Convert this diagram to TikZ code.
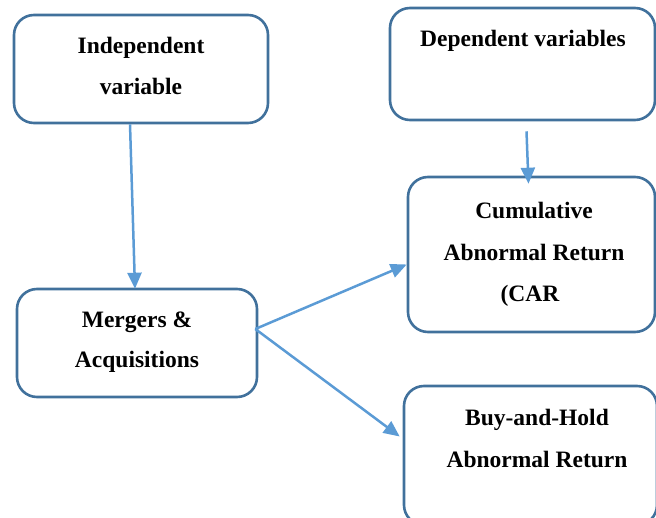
\documentclass[tikz,border=0pt]{standalone}
\usepackage{fontspec}
\setmainfont{Liberation Serif}
\usetikzlibrary{arrows.meta}
\definecolor{boxline}{HTML}{41719C}
\definecolor{arrowcol}{HTML}{5B9BD5}
\begin{document}
\begin{tikzpicture}[x=1pt,y=-1pt,
  box/.style={draw=boxline, line width=2.6pt, rounded corners=20pt, inner sep=0pt},
  lbl/.style={anchor=base, inner sep=0pt, font=\fontsize{23.5}{28}\selectfont\bfseries},
  conn/.style={draw=arrowcol, line width=2.5pt, -{Triangle[length=16pt,width=14pt]}}]
\useasboundingbox (0,0) rectangle (656,518);
% boxes
\node[box, minimum width=254pt, minimum height=108pt] (iv) at (141,69) {};
\node[box, minimum width=265pt, minimum height=112pt] (dv) at (522.5,64) {};
\node[box, minimum width=247pt, minimum height=155pt] (cr) at (531.5,254.5) {};
\node[box, minimum width=240pt, minimum height=108pt] (ma) at (137,343) {};
\node[box, minimum width=253pt, minimum height=139pt] (bh) at (530.5,455.5) {};
% labels
\node[lbl] (t1) at (141,54) {Independent};
\node[lbl] (t2) at (141,95) {variable};
\node[lbl] (t3) at (523,47) {Dependent variables};
\node[lbl] (t4) at (534,219) {Cumulative};
\node[lbl] (t5) at (534,261) {Abnormal Return};
\node[lbl] (t6) at (530,302) {(CAR};
\node[lbl] (t7) at (137,328) {Mergers \&};
\node[lbl] (t8) at (137,368) {Acquisitions};
\node[lbl] (t9) at (537,425) {Buy-and-Hold};
\node[lbl] (t10) at (537,467) {Abnormal Return};
% connectors
\draw[conn] ([xshift=-11pt]iv.south) -- ([xshift=-2pt,yshift=-1pt]ma.north);
\draw[conn] ([xshift=4pt,yshift=-10pt]dv.south) -- ([xshift=-3pt,yshift=-8pt]cr.north);
\draw[conn] ([xshift=-3pt,yshift=14pt]ma.east) -- ([yshift=-10pt]cr.west);
\draw[conn] ([xshift=-3pt,yshift=14pt]ma.east) -- ([xshift=-3pt,yshift=19pt]bh.west);
\end{tikzpicture}
\end{document}
